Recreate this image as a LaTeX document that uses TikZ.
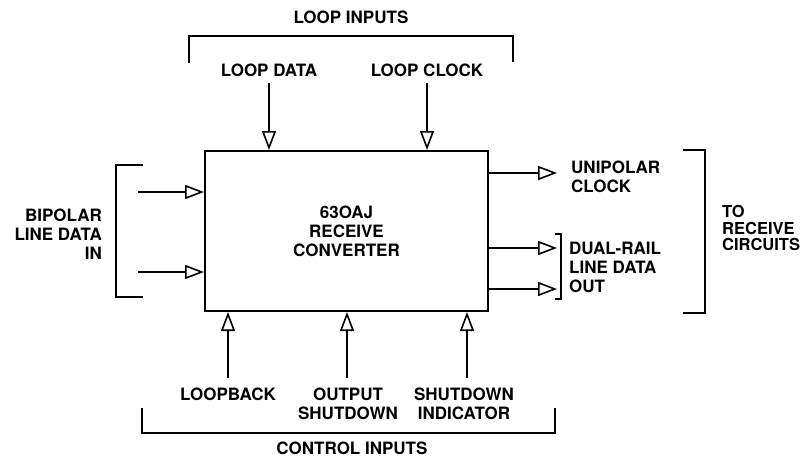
\documentclass[tikz,border=0pt]{standalone}
\usepackage{fontspec}
\setmainfont{TeX Gyre Heros}
\usetikzlibrary{arrows.meta,positioning}
\tikzset{
    lbl/.style={font=\fontsize{17}{19}\selectfont\bfseries, align=center, inner sep=0pt},
    sig/.style={-{Triangle[open,length=19pt,width=14pt,line width=1.6pt]}, line width=1.5pt},
    brk/.style={line width=1.7pt},
}
\begin{document}
\begin{tikzpicture}[x=1pt,y=-1pt]
    \useasboundingbox (0,0) rectangle (808,458);

    % Converter block
    \node[draw, line width=2pt, minimum width=283pt, minimum height=160pt, lbl]
        (conv) at (346.5,231) {63OAJ\\RECEIVE\\CONVERTER};

    % Loop inputs
    \node[lbl] (loopin) at (351,17) {LOOP INPUTS};
    \draw[brk] (189,63) -- (189,36) -- (513,36) -- (513,62);
    \node[lbl] (ldata) at (269,70) {LOOP DATA};
    \node[lbl] (lclock) at (427,70) {LOOP CLOCK};
    \coordinate (ldtop) at (269,83);
    \coordinate (lctop) at (427,83);
    \draw[sig] (ldtop) -- (ldtop |- conv.north);
    \draw[sig] (lctop) -- (lctop |- conv.north);

    % Bipolar line data
    \node[lbl, align=right, anchor=east] (bipolar) at (102,234) {BIPOLAR\\LINE DATA\\IN};
    \draw[brk] (143,165) -- (116,165) -- (116,297) -- (143,297);
    \coordinate (bp1) at (138,192);
    \coordinate (bp2) at (138,272);
    \draw[sig] (bp1) -- (bp1 -| conv.west);
    \draw[sig] (bp2) -- (bp2 -| conv.west);

    % Outputs
    \coordinate (uniend) at (557,173);
    \coordinate (dr1end) at (557,248);
    \coordinate (dr2end) at (557,289);
    \draw[sig] (uniend -| conv.east) -- (uniend);
    \draw[sig] (dr1end -| conv.east) -- (dr1end);
    \draw[sig] (dr2end -| conv.east) -- (dr2end);
    \node[lbl, align=left, anchor=west] (uniclk) at (571,176.5) {UNIPOLAR\\CLOCK};
    \draw[brk] (555,234) -- (561,234) -- (561,299) -- (555,299);
    \node[lbl, align=left, anchor=west] (dualrail) at (569,267.5) {DUAL-RAIL\\LINE DATA\\OUT};
    \draw[brk] (683,150) -- (705,150) -- (705,313) -- (683,313);
    \node[lbl, font=\fontsize{16.5}{16.5}\selectfont\bfseries, align=left, anchor=west]
        (torecv) at (722,228) {TO\\RECEIVE\\CIRCUITS};

    % Control inputs
    \node[lbl] (loopback) at (228,394) {LOOPBACK};
    \node[lbl] (outshut) at (348,403.5) {OUTPUT\\SHUTDOWN};
    \node[lbl] (shutind) at (464,403.5) {SHUTDOWN\\INDICATOR};
    \coordinate (lbbot) at (228,378);
    \coordinate (osbot) at (347,378);
    \coordinate (sibot) at (467,378);
    \draw[sig] (lbbot) -- (lbbot |- conv.south);
    \draw[sig] (osbot) -- (osbot |- conv.south);
    \draw[sig] (sibot) -- (sibot |- conv.south);
    \draw[brk] (142,408) -- (142,433) -- (555,433) -- (555,408);
    \node[lbl] (ctrlin) at (352,448) {CONTROL INPUTS};
\end{tikzpicture}
\end{document}
